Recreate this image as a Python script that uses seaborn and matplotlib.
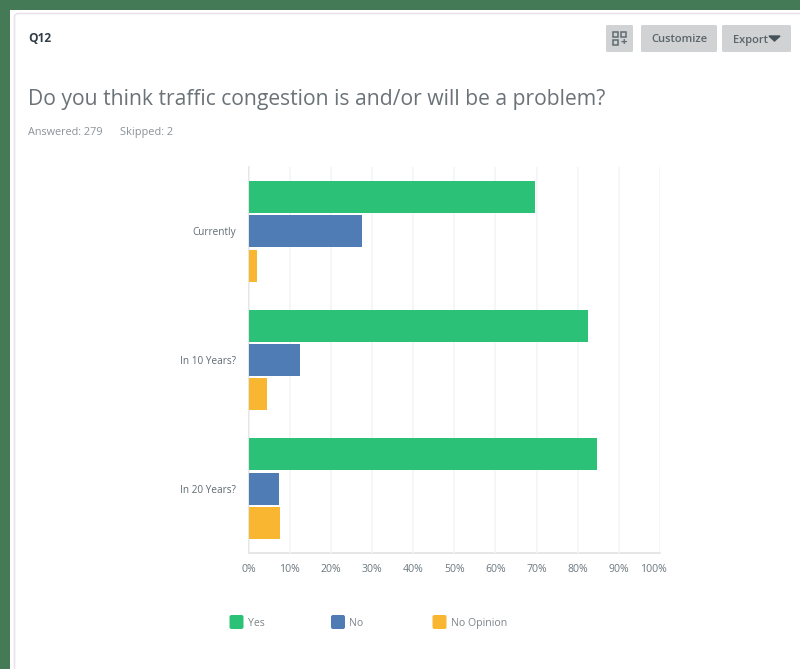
import pandas as pd
import seaborn as sns
import matplotlib.pyplot as plt
from matplotlib.patches import Rectangle, FancyBboxPatch
from matplotlib.transforms import ScaledTranslation

W, H = 800, 669

categories = ["Currently", "In 10 Years?", "In 20 Years?"]
answers = ["Yes", "No", "No Opinion"]
yes_values = [69.7, 82.6, 84.6]
no_values = [27.7, 12.5, 7.4]
no_opinion_values = [2.1, 4.6, 7.7]
tick_values = [0, 10, 20, 30, 40, 50, 60, 70, 80, 90, 100]
colors = ["#2bc277", "#507cb6", "#f9b731"]

df = pd.DataFrame({"Yes": yes_values, "No": no_values, "No Opinion": no_opinion_values}, index=categories)
df = df.reset_index(names="Row").melt(id_vars="Row", var_name="Answer", value_name="Percent")

sns.set_theme(style="white")
plt.rcParams["font.family"] = ["Open Sans", "DejaVu Sans"]

fig = plt.figure(figsize=(8, 6.69), dpi=100, facecolor="#457a56")

# page background in pixel coords
bg = fig.add_axes([0, 0, 1, 1])
bg.set_xlim(0, W)
bg.set_ylim(H, 0)
bg.axis("off")
bg.add_patch(Rectangle((10, 10), 790, 659, fc="white", ec="none"))
bg.add_patch(FancyBboxPatch((14.5, 13.5), 800, 680, boxstyle="round,pad=0,rounding_size=4",
                            fc="white", ec="#ece3ea", lw=1.2))

txt = "#6b787f"
bg.text(28, 42.5, "Q12", fontsize=8.6, fontweight="bold", color="#333e48", va="baseline")
bg.text(28, 105, "Do you think traffic congestion is and/or will be a problem?",
        fontsize=15.2, color="#6b7378", va="baseline")
bg.text(28.5, 135, "Answered: 279", fontsize=7.8, color="#8b9298", va="baseline")
bg.text(119.5, 135, "Skipped: 2", fontsize=7.9, color="#8b9298", va="baseline")

# buttons
btn = "#d0d2d3"
for bx0, bx1 in [(606, 633), (641, 717), (722, 791)]:
    bg.add_patch(FancyBboxPatch((bx0, 25), bx1 - bx0, 27, boxstyle="round,pad=0,rounding_size=1.5", fc=btn, ec="none"))
for x, y in [(613, 32), (621, 32), (613, 40)]:
    bg.add_patch(Rectangle((x, y), 5, 5, fc="none", ec="#5f6b72", lw=1.1))
bg.text(623.5, 42.5, "+", fontsize=8, color="#5f6b72", ha="center", va="center", fontweight="bold")
bg.text(679.5, 42.5, "Customize", fontsize=8, fontweight="semibold", color="#59646b", ha="center", va="baseline")
bg.text(733, 42.5, "Export", fontsize=8, fontweight="semibold", color="#59646b", va="baseline")
bg.fill([769, 780, 774.5], [36, 36, 41], color="#46525a")

# chart
x0, x1, y0, y1 = 248.5, 660, 167, 553
ax = fig.add_axes([x0 / W, 1 - y1 / H, (x1 - x0) / W, (y1 - y0) / H])
sns.barplot(data=df, y="Row", x="Percent", hue="Answer", order=categories, hue_order=answers,
            palette=colors, saturation=1, width=0.8, gap=0.06, orient="h", legend=False,
            linewidth=0, ax=ax)
ax.set_xlim(0, 100)
ax.set_ylim(2.5, -0.5)
ax.set_xlabel("")
ax.set_ylabel("")
ax.set_facecolor("none")
ax.set_axisbelow(True)
ax.set_xticks(tick_values)
ax.set_xticklabels([f"{t}%" for t in tick_values], fontsize=7.6, color=txt)
ax.tick_params(axis="x", length=0, pad=8)
ax.tick_params(axis="y", length=0, pad=9, labelsize=7.2, labelcolor="#5f6b72")
ax.xaxis.grid(True, color="#f4f5f6", lw=1.2)
ax.yaxis.grid(False)
sns.despine(ax=ax, top=True, right=True)
for side in ["left", "bottom"]:
    ax.spines[side].set_color("#dfe2e4")
    ax.spines[side].set_linewidth(1.2)
    ax.spines[side].set_zorder(0.5)

# last label sits left of its gridline in the reference
last = ax.get_xticklabels()[-1]
last.set_transform(last.get_transform() + ScaledTranslation(-7 / 100, 0, fig.dpi_scale_trans))

# legend
for x, name, c in zip([229.5, 331, 432.5], answers, colors):
    bg.add_patch(FancyBboxPatch((x, 615), 14, 14, boxstyle="round,pad=0,rounding_size=2", fc=c, ec="none"))
    bg.text(x + 18.5, 626, name, fontsize=7.6, color="#7d858a", va="baseline")

fig.savefig("out.png", dpi=100, facecolor=fig.get_facecolor())
